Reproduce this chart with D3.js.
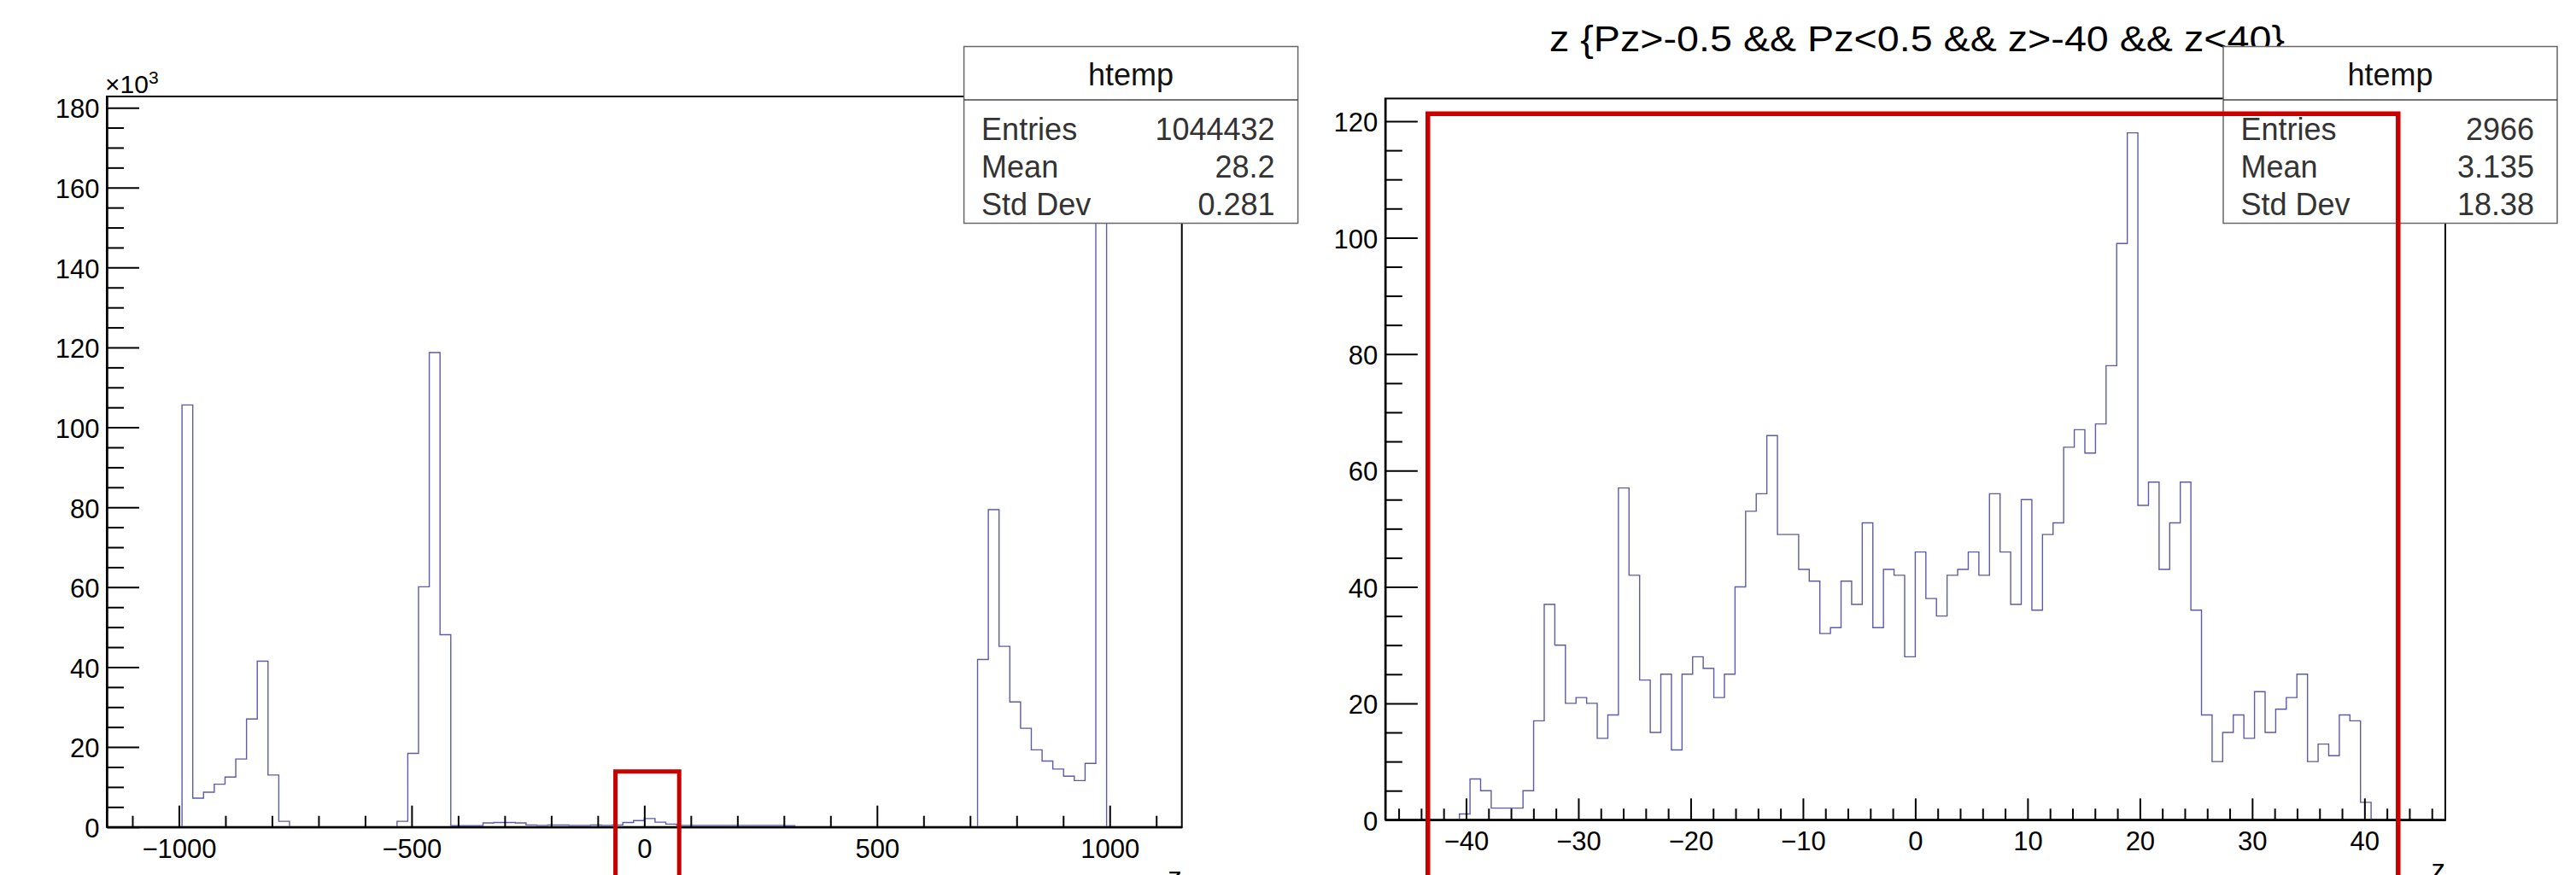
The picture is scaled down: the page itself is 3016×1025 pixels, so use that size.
<!DOCTYPE html>
<html lang="en">
  <head>
    <meta charset="UTF-8" />
    <script src="https://cdn.jsdelivr.net/npm/d3@7"></script>
    <style>
      * {
        margin: 0;
        padding: 0;
      }
      body {
        background: #fff;
      }
      svg {
        display: block;
        font-family: 'Liberation Sans', Arial, Helvetica, sans-serif;
      }
    </style>
    <title>htemp</title>
  </head>
  <body>
    <div id="container"></div>
  </body>
  <script>
    // left pad: z of every entry, 100 bins, counts in units of 10^3
    const zAllRange = [-1155, 1155];
    const zAllCounts = [
      0, 0, 0, 0, 0, 0, 0,
      105.6, 7.2, 8.7, 10.7, 12.5, 17.0, 27.0, 41.5, 13.0, 1.4,
      0, 0, 0, 0, 0, 0, 0, 0, 0, 0,
      1.4, 18.4, 60.1, 118.7, 48.1,
      0.3, 0.3, 0.3,
      1.0, 1.1, 1.1, 1.0,
      0.5, 0.4, 0.5, 0.5, 0.4, 0.4, 0.5, 0.4, 0.5,
      1.1, 1.6, 2.1, 1.2, 0.7,
      0.4, 0.4, 0.4, 0.4, 0.4, 0.4, 0.4, 0.4, 0.4, 0.4, 0.3,
      0, 0, 0, 0, 0, 0, 0, 0, 0, 0, 0, 0, 0, 0, 0, 0, 0,
      41.9, 79.4, 45.2, 31.3, 24.7, 19.3, 16.5, 14.5, 12.7, 11.6, 15.9, 174.1,
      0, 0, 0, 0, 0, 0, 0,
    ];
    const zAllXTicks = [-1000, -500, 0, 500, 1000];
    const zAllYTicks = [0, 20, 40, 60, 80, 100, 120, 140, 160, 180];
    const zAllStats = [
      ['Entries', '1044432'],
      ['Mean', '28.2'],
      ['Std Dev', '0.281'],
    ];
    // red marker round the region that the right pad zooms into
    const zAllMark = [-62, 75, 13.9];

    // right pad: z with the Pz cut, 100 bins
    const zCutRange = [-47.2, 47.2];
    const zCutCounts = [
      0, 0, 0, 0, 0, 0, 0,
      1, 7, 5, 2, 2, 2, 5, 17, 37, 30,
      20, 21, 20, 14, 18, 57, 42, 24, 15, 25,
      12, 25, 28, 26, 21, 25, 40, 53, 56, 66,
      49, 49, 43, 41, 32, 33, 41, 37, 51, 33,
      43, 42, 28, 46, 38, 35, 42, 43, 46, 42,
      56, 46, 37, 55, 36, 49, 51, 64, 67, 63,
      68, 78, 99, 118, 54, 58, 43, 51, 58, 36,
      18, 10, 15, 18, 14, 22, 15, 19, 21, 25,
      10, 13, 11, 18, 17, 3,
      0, 0, 0, 0, 0, 0, 0,
    ];
    const zCutXTicks = [-40, -30, -20, -10, 0, 10, 20, 30, 40];
    const zCutYTicks = [0, 20, 40, 60, 80, 100, 120];
    const zCutStats = [
      ['Entries', '2966'],
      ['Mean', '3.135'],
      ['Std Dev', '18.38'],
    ];
    const zCutMark = [-43.4, 43.0, 121.3];
    const zCutTitle = 'z {Pz>-0.5 && Pz<0.5 && z>-40 && z<40}';

    const statsName = 'htemp';
    const axisName = 'z';

    const width = 3016;
    const height = 1025;
    const lineColor = '#5c5ca8';
    const markColor = '#c80000';
    const labelSize = 31;

    const svg = d3
      .select('#container')
      .append('svg')
      .attr('width', width)
      .attr('height', height);

    svg
      .append('rect')
      .attr('width', width)
      .attr('height', height)
      .attr('fill', '#fff');

    function drawPanel(p) {
      const g = svg.append('g');
      const nBins = p.counts.length;
      const binW = (p.range[1] - p.range[0]) / nBins;
      // ROOT leaves 5% headroom above the highest bin
      const yMax = d3.max(p.counts) * 1.05;

      const x = d3.scaleLinear().domain(p.range).range([p.left, p.right]);
      const y = d3.scaleLinear().domain([0, yMax]).range([p.bottom, p.top]);

      //frame
      g.append('rect')
        .attr('x', p.left)
        .attr('y', p.top)
        .attr('width', p.right - p.left)
        .attr('height', p.bottom - p.top)
        .attr('fill', 'none')
        .attr('stroke', '#000')
        .attr('stroke-width', 2);

      //histogram outline
      const pts = [[p.range[0], 0]];
      p.counts.forEach((c, i) => pts.push([p.range[0] + i * binW, c]));
      pts.push([p.range[1], p.counts[nBins - 1]]);
      pts.push([p.range[1], 0]);
      const line = d3
        .line()
        .x((d) => x(d[0]))
        .y((d) => y(d[1]))
        .curve(d3.curveStepAfter);
      g.append('path')
        .attr('d', line(pts))
        .attr('fill', 'none')
        .attr('stroke', lineColor)
        .attr('stroke-width', 1.4);

      //minor ticks
      const xMinor = d3
        .range(
          Math.ceil(p.range[0] / p.xMinor) * p.xMinor,
          p.range[1],
          p.xMinor
        )
        .filter((v) => !p.xTicks.includes(v));
      const yMinor = d3
        .range(0, yMax, p.yMinor)
        .filter((v) => !p.yTicks.includes(v));

      g.append('g')
        .attr('transform', `translate(0,${p.bottom})`)
        .call(
          d3.axisBottom(x).tickValues(xMinor).tickSize(-13).tickSizeOuter(0).tickFormat('')
        );
      g.append('g')
        .attr('transform', `translate(${p.left},0)`)
        .call(
          d3.axisLeft(y).tickValues(yMinor).tickSize(-20).tickSizeOuter(0).tickFormat('')
        );

      //major ticks + labels
      const xAxis = g
        .append('g')
        .attr('transform', `translate(0,${p.bottom})`)
        .call(
          d3
            .axisBottom(x)
            .tickValues(p.xTicks)
            .tickSize(-25)
            .tickSizeOuter(0)
            .tickPadding(14)
            .tickFormat(d3.format('d'))
        );
      const yAxis = g
        .append('g')
        .attr('transform', `translate(${p.left},0)`)
        .call(
          d3
            .axisLeft(y)
            .tickValues(p.yTicks)
            .tickSize(-38)
            .tickSizeOuter(0)
            .tickPadding(8.5)
            .tickFormat(d3.format('d'))
        );
      yAxis.selectAll('text').attr('dy', '0.38em');

      g.selectAll('.tick line').attr('stroke', '#000').attr('stroke-width', 2);
      g.selectAll('.domain').attr('stroke', '#000').attr('stroke-width', 2);
      g.selectAll('.tick text')
        .attr('font-size', labelSize)
        .attr('font-family', "'Liberation Sans', Arial, sans-serif")
        .attr('fill', '#000');

      //axis title, mostly below the picture edge
      g.append('text')
        .text(axisName)
        .attr('x', p.right)
        .attr('y', p.bottom + 70)
        .attr('text-anchor', 'end')
        .attr('font-size', 33)
        .attr('fill', '#000');

      return { g, x, y };
    }

    function drawStats(left, stats) {
      const top = 54.5;
      const w = 391;
      const g = svg.append('g');
      g.append('rect')
        .attr('x', left)
        .attr('y', top)
        .attr('width', w)
        .attr('height', 207)
        .attr('fill', '#fff')
        .attr('stroke', '#666')
        .attr('stroke-width', 1.5);
      g.append('line')
        .attr('x1', left)
        .attr('x2', left + w)
        .attr('y1', top + 62.5)
        .attr('y2', top + 62.5)
        .attr('stroke', '#444')
        .attr('stroke-width', 1.5);
      g.append('text')
        .text(statsName)
        .attr('x', left + w / 2)
        .attr('y', top + 45)
        .attr('text-anchor', 'middle')
        .attr('font-size', 36)
        .attr('fill', '#111');
      stats.forEach((row, i) => {
        const yy = top + 109 + i * 44.3;
        g.append('text')
          .text(row[0])
          .attr('x', left + 20.5)
          .attr('y', yy)
          .attr('font-size', 36)
          .attr('fill', '#333');
        g.append('text')
          .text(row[1])
          .attr('x', left + w - 27)
          .attr('y', yy)
          .attr('text-anchor', 'end')
          .attr('font-size', 36)
          .attr('fill', '#333');
      });
    }

    function drawMark(panel, mark, sw) {
      const { x, y } = panel;
      const path = d3.path();
      path.moveTo(x(mark[0]), height + 20);
      path.lineTo(x(mark[0]), y(mark[2]));
      path.lineTo(x(mark[1]), y(mark[2]));
      path.lineTo(x(mark[1]), height + 20);
      svg
        .append('path')
        .attr('d', path.toString())
        .attr('fill', 'none')
        .attr('stroke', markColor)
        .attr('stroke-width', sw)
        .attr('stroke-linejoin', 'miter');
    }

    // left pad
    const leftPanel = drawPanel({
      counts: zAllCounts,
      range: zAllRange,
      xTicks: zAllXTicks,
      yTicks: zAllYTicks,
      xMinor: 100,
      yMinor: 5,
      left: 125,
      right: 1383.7,
      top: 113,
      bottom: 968.7,
    });

    // x10^3 exponent label
    const expo = svg
      .append('text')
      .attr('x', 123)
      .attr('y', 109)
      .attr('font-size', 30)
      .attr('fill', '#000');
    expo.append('tspan').text('\u00d710');
    expo.append('tspan').text('3').attr('font-size', 21).attr('dy', -11);

    // right pad
    const rightPanel = drawPanel({
      counts: zCutCounts,
      range: zCutRange,
      xTicks: zCutXTicks,
      yTicks: zCutYTicks,
      xMinor: 2,
      yMinor: 5,
      left: 1621.8,
      right: 2863,
      top: 115.4,
      bottom: 960.3,
    });

    //title
    svg
      .append('text')
      .text(zCutTitle)
      .attr('x', 1814)
      .attr('y', 60)
      .attr('font-size', 42)
      .attr('textLength', 861)
      .attr('lengthAdjust', 'spacingAndGlyphs')
      .attr('fill', '#000');

    drawStats(1128.6, zAllStats);
    drawStats(2603, zCutStats);

    drawMark(leftPanel, zAllMark, 5);
    drawMark(rightPanel, zCutMark, 5.5);
  </script>
</html>
